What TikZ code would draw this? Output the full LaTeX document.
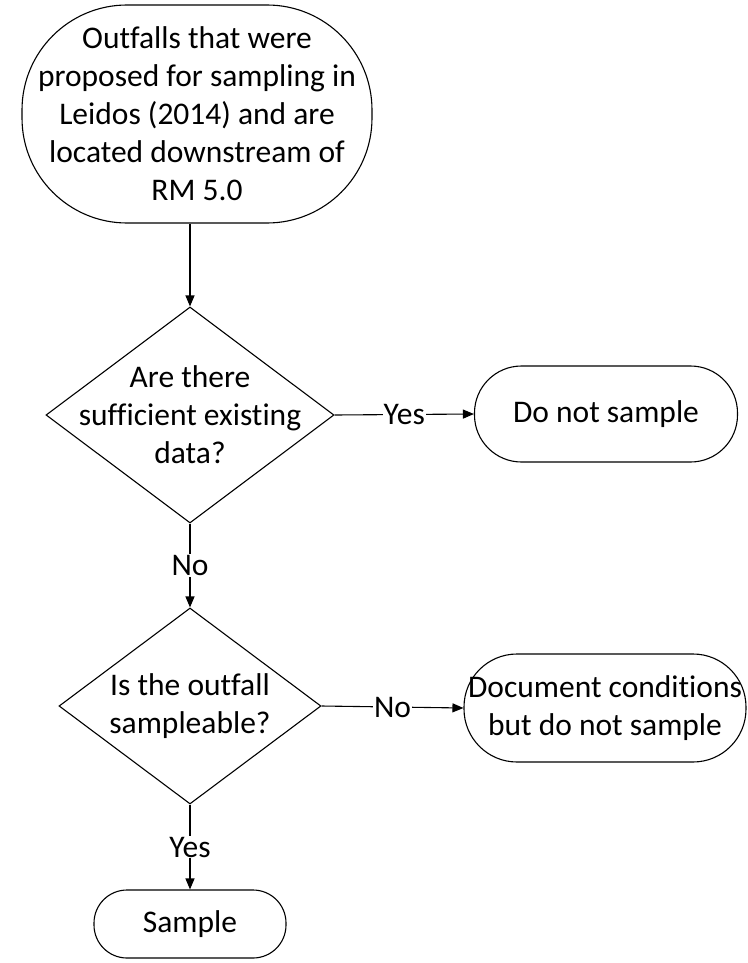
\documentclass[tikz,border=0pt]{standalone}
\usepackage{fontspec}
\setmainfont{Carlito}[Ligatures={NoCommon}]
\usetikzlibrary{shapes.geometric, arrows.meta, positioning}

\begin{document}
\begin{tikzpicture}[>={Triangle[length=11pt,width=9pt]}, x=1pt, y=-1pt, line width=1.1pt,
  font=\fontsize{31.5}{38}\selectfont,
  term/.style={draw, rectangle, align=center, inner sep=0pt},
  decision/.style={draw, diamond, inner sep=0pt},
  lbl/.style={fill=white, inner sep=1pt}]
  \useasboundingbox (0,0) rectangle (747,963);
  % start terminal
  \node[term, rounded corners=105pt, minimum width=350pt, minimum height=218pt] (start) at (197,114)
    {Outfalls that were\\proposed for sampling in\\Leidos (2014) and are\\located downstream of\\RM 5.0};
  % first decision
  \node[decision, minimum width=288pt, minimum height=216pt,
    label={[align=center]center:Are there\\sufficient existing\\data?}] (d1) at (190,415) {};
  \node[term, rounded corners=47pt, minimum width=263pt, minimum height=96pt] (skip) at (606,414) {Do not sample};
  % second decision
  \node[decision, minimum width=262pt, minimum height=196pt,
    label={[align=center]center:Is the outfall\\sampleable?}] (d2) at (190,706) {};
  \node[term, rounded corners=53pt, minimum width=282pt, minimum height=108pt] (doc) at (605,708)
    {Document conditions\\but do not sample};
  % end terminal
  \node[term, rounded corners=33pt, minimum width=192pt, minimum height=68pt] (sample) at (190,924) {Sample};
  % connectors
  \draw[->] (start.south -| d1.north) -- (d1.north);
  \draw[->] (d1.east) -- node[lbl]{Yes} (skip.west);
  \draw[->] (d1.south) -- node[lbl]{No} (d2.north);
  \draw[->] (d2.east) -- node[lbl]{No} (doc.west);
  \draw[->] (d2.south) -- node[lbl]{Yes} (sample.north);
\end{tikzpicture}
\end{document}
